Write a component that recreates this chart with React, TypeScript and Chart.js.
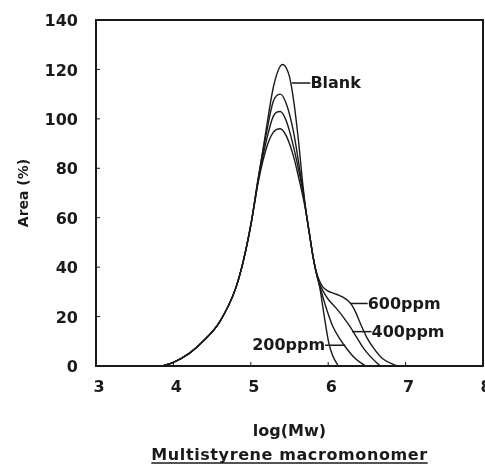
import React, { useEffect, useRef } from "react";
import { Chart, registerables } from "chart.js";

Chart.register(...registerables);

// ---- data (log(Mw), Area %) ----
const xTickValues = [3, 4, 5, 6, 7, 8];
const yTickValues = [0, 20, 40, 60, 80, 100, 120, 140];

const seriesNames = ["Blank", "200ppm", "400ppm", "600ppm"];

const blank: number[][] = [
  [3.85, 0], [4.0, 1.5], [4.2, 5], [4.4, 10.5], [4.6, 18], [4.8, 31], [4.9, 42], [5.0, 57],
  [5.1, 76], [5.2, 96], [5.3, 114], [5.41, 122], [5.5, 117], [5.56, 106], [5.62, 90],
  [5.67, 74], [5.72, 61], [5.76, 53], [5.8, 45], [5.84, 38.5], [5.89, 32], [5.93, 24],
  [5.97, 16], [6.01, 9], [6.06, 4], [6.13, 0],
];
const ppm200: number[][] = [
  [3.85, 0], [4.0, 1.5], [4.2, 5], [4.4, 10.5], [4.6, 18], [4.8, 31], [4.9, 42], [5.0, 57],
  [5.1, 77], [5.2, 94], [5.29, 107], [5.38, 110], [5.46, 106], [5.55, 95], [5.62, 82],
  [5.67, 72], [5.72, 61], [5.76, 53], [5.8, 45], [5.84, 38.5], [5.88, 33.5], [5.93, 28],
  [6.0, 21], [6.06, 16], [6.15, 11], [6.24, 7], [6.35, 3], [6.48, 0],
];
const ppm400: number[][] = [
  [3.85, 0], [4.0, 1.5], [4.2, 5], [4.4, 10.5], [4.6, 18], [4.8, 31], [4.9, 42], [5.0, 57],
  [5.1, 76], [5.2, 91], [5.29, 101], [5.38, 103], [5.46, 99], [5.55, 89], [5.62, 79],
  [5.67, 71], [5.72, 61], [5.76, 53], [5.8, 45], [5.84, 38.5], [5.88, 34], [5.93, 30.5],
  [6.0, 27], [6.1, 23.5], [6.19, 20], [6.28, 16], [6.37, 11.5], [6.46, 7], [6.54, 4],
  [6.67, 0],
];
const ppm600: number[][] = [
  [3.85, 0], [4.0, 1.5], [4.2, 5], [4.4, 10.5], [4.6, 18], [4.8, 31], [4.9, 42], [5.0, 57],
  [5.1, 75], [5.2, 88], [5.29, 94.5], [5.38, 96], [5.46, 93], [5.55, 85], [5.62, 76],
  [5.67, 69], [5.72, 61], [5.76, 53], [5.8, 45], [5.84, 39], [5.88, 35], [5.93, 32],
  [6.0, 30.3], [6.08, 29.3], [6.14, 28.6], [6.2, 27.7], [6.26, 26.3], [6.31, 24.4],
  [6.36, 21.4], [6.41, 17.6], [6.5, 11.5], [6.58, 7.5], [6.7, 3], [6.89, 0],
];
const allSeries = [blank, ppm200, ppm400, ppm600];

// curve labels: leader line from -> to (data coords), text anchored at "at"
const curveLabels = [
  { text: "Blank", from: [5.53, 114.5], to: [5.77, 114.5], at: [5.77, 114.3], align: "left" },
  { text: "600ppm", from: [6.29, 25.3], to: [6.51, 25.3], at: [6.51, 24.9], align: "left" },
  { text: "400ppm", from: [6.31, 13.9], to: [6.56, 13.9], at: [6.56, 13.5], align: "left" },
  { text: "200ppm", from: [6.22, 8.4], to: [5.96, 8.4], at: [5.96, 8.1], align: "right" },
];

const xTitle = "log(Mw)";
const yTitle = "Area (%)";
const subTitle = "Multistyrene macromonomer";

const FONT = "'DejaVu Sans', sans-serif";
const INK = "#1a1a1a";

const decorPlugin = {
  id: "decor",
  afterDatasetsDraw(chart: any) {
    const { ctx, chartArea: a, scales } = chart;
    const xs = scales.x;
    const ys = scales.y;
    ctx.save();
    // frame
    ctx.strokeStyle = INK;
    ctx.lineWidth = 2;
    ctx.strokeRect(a.left, a.top, a.right - a.left, a.bottom - a.top);
    // inward tick marks
    ctx.lineWidth = 1;
    xTickValues.forEach((v) => {
      const px = xs.getPixelForValue(v);
      ctx.beginPath();
      ctx.moveTo(px, a.bottom);
      ctx.lineTo(px, a.bottom - 4);
      ctx.stroke();
    });
    yTickValues.forEach((v) => {
      const py = ys.getPixelForValue(v);
      ctx.beginPath();
      ctx.moveTo(a.left, py);
      ctx.lineTo(a.left + 4, py);
      ctx.stroke();
    });
    // tick labels
    ctx.fillStyle = INK;
    ctx.font = `bold 16px ${FONT}`;
    ctx.textBaseline = "middle";
    ctx.textAlign = "center";
    xTickValues.forEach((v) => {
      ctx.fillText(String(v), xs.getPixelForValue(v) + 3, a.bottom + 22);
    });
    ctx.textAlign = "right";
    yTickValues.forEach((v) => {
      ctx.fillText(String(v), a.left - 18, ys.getPixelForValue(v) + 2);
    });
    // curve labels
    ctx.lineWidth = 1.5;
    curveLabels.forEach((l) => {
      ctx.beginPath();
      ctx.moveTo(xs.getPixelForValue(l.from[0]), ys.getPixelForValue(l.from[1]));
      ctx.lineTo(xs.getPixelForValue(l.to[0]), ys.getPixelForValue(l.to[1]));
      ctx.stroke();
      ctx.textAlign = l.align as CanvasTextAlign;
      ctx.fillText(l.text, xs.getPixelForValue(l.at[0]), ys.getPixelForValue(l.at[1]));
    });
    // axis titles
    const cx = (a.left + a.right) / 2;
    ctx.textAlign = "center";
    ctx.fillText(xTitle, cx, 432);
    ctx.save();
    ctx.translate(24, (a.top + a.bottom) / 2);
    ctx.rotate(-Math.PI / 2);
    ctx.font = `bold 14px ${FONT}`;
    ctx.fillText(yTitle, 0, 0);
    ctx.restore();
    // underlined subtitle
    ctx.font = `bold 16px ${FONT}`;
    (ctx as any).letterSpacing = "0.6px";
    ctx.textBaseline = "alphabetic";
    ctx.fillText(subTitle, cx, 460);
    const w = ctx.measureText(subTitle).width;
    ctx.lineWidth = 1.5;
    ctx.beginPath();
    ctx.moveTo(cx - w / 2, 463);
    ctx.lineTo(cx + w / 2, 463);
    ctx.stroke();
    ctx.restore();
  },
};

export default function App() {
  const ref = useRef<HTMLCanvasElement>(null);
  useEffect(() => {
    if (!ref.current) return;
    const chart = new Chart(ref.current, {
      type: "line",
      data: {
        datasets: allSeries.map((s, i) => ({
          label: seriesNames[i],
          data: s.map((p) => ({ x: p[0], y: p[1] })),
          borderColor: INK,
          borderWidth: 1.4,
          pointRadius: 0,
          fill: false,
          cubicInterpolationMode: "monotone" as const,
        })),
      },
      options: {
        animation: false,
        responsive: false,
        layout: { padding: { top: 20, right: 2, left: 0, bottom: 0 } },
        plugins: { legend: { display: false }, tooltip: { enabled: false } },
        scales: {
          x: {
            type: "linear",
            min: 3,
            max: 8,
            afterFit: (s: any) => {
              s.height = 98;
              s.paddingLeft = 0;
              s.paddingRight = 0;
            },
            ticks: { display: false, stepSize: 1 },
            grid: { display: false },
            border: { display: false },
          },
          y: {
            min: 0,
            max: 140,
            afterFit: (s: any) => {
              s.width = 96;
              s.paddingTop = 0;
              s.paddingBottom = 0;
            },
            ticks: { display: false, stepSize: 20 },
            grid: { display: false },
            border: { display: false },
          },
        },
      },
      plugins: [decorPlugin],
    });
    return () => chart.destroy();
  }, []);
  return (
    <div style={{ position: "absolute", left: 0, top: 0, width: 485, height: 464, background: "#fff" }}>
      <canvas ref={ref} width={485} height={464} style={{ display: "block" }} />
    </div>
  );
}
